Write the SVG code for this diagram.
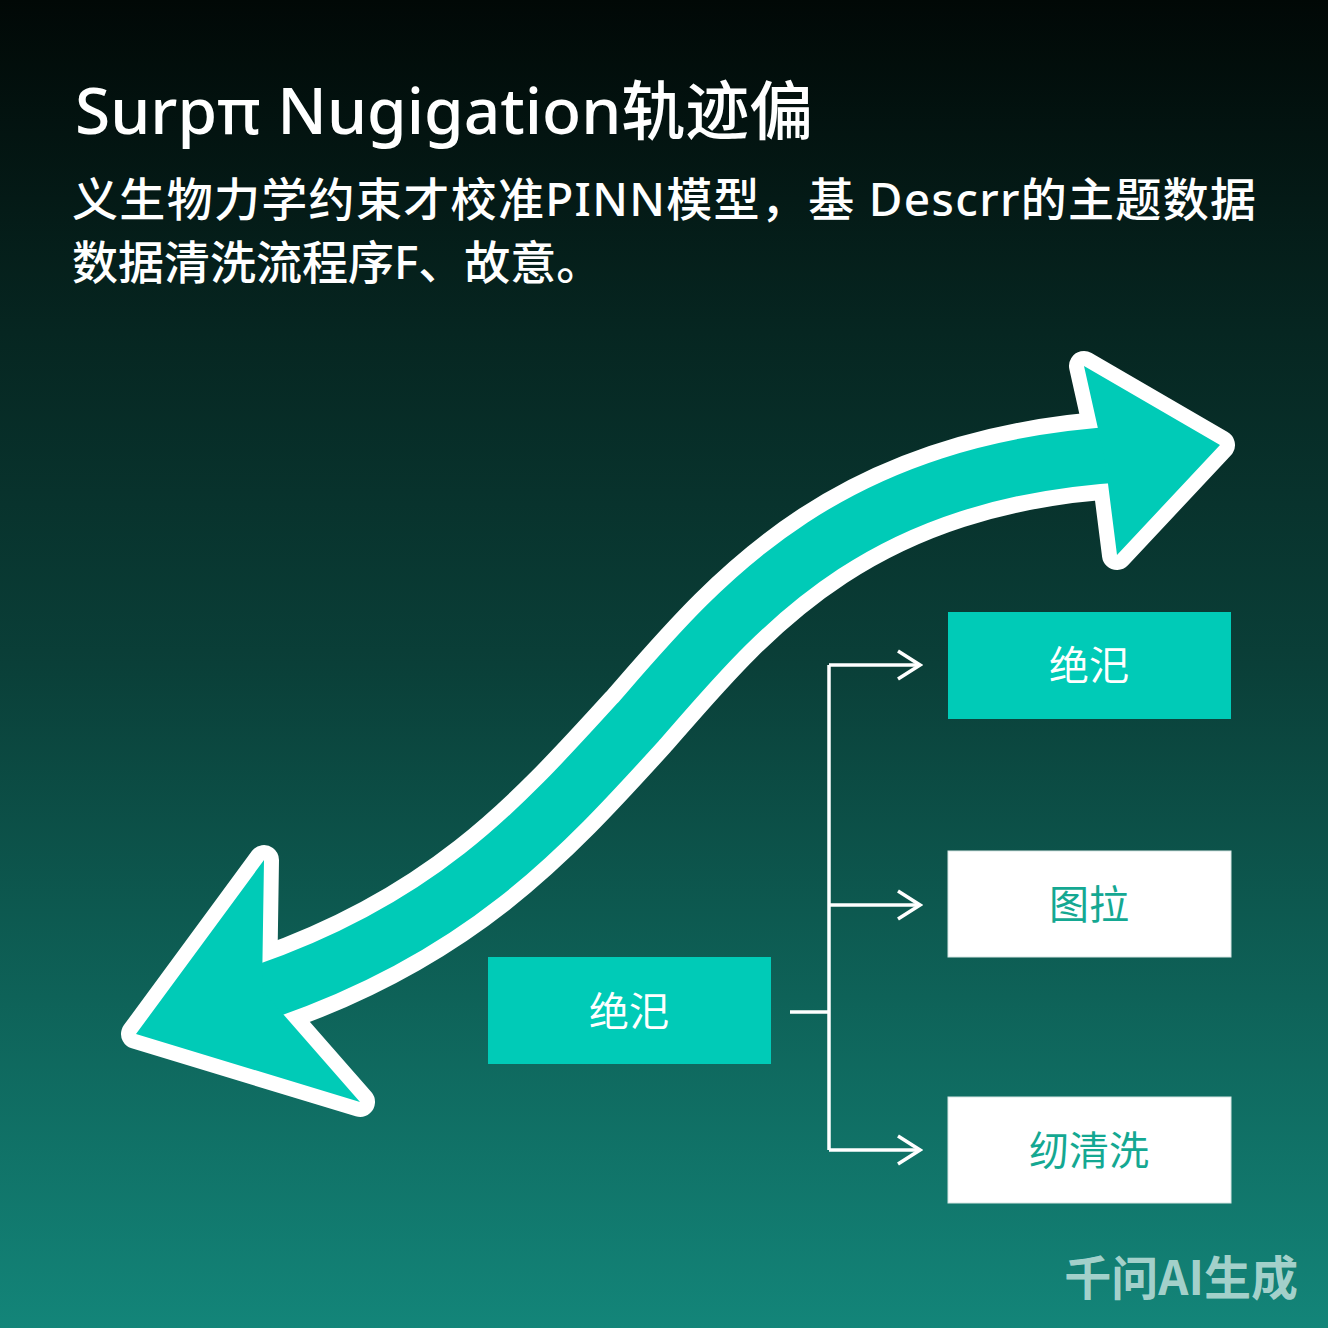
<svg xmlns="http://www.w3.org/2000/svg" width="1328" height="1328" viewBox="0 0 1328 1328">
  <defs>
    <linearGradient id="bg" x1="0" y1="0" x2="0" y2="1">
      <stop offset="0" stop-color="#010806"/>
      <stop offset="0.25" stop-color="#062621"/>
      <stop offset="0.5" stop-color="#0a3f38"/>
      <stop offset="0.75" stop-color="#0e6258"/>
      <stop offset="1" stop-color="#138579"/>
    </linearGradient>
    <marker id="open" viewBox="0 0 28 32" refX="25" refY="16" markerWidth="28" markerHeight="32" markerUnits="userSpaceOnUse" orient="auto">
      <path d="M3,2 L25,16 L3,30" fill="none" stroke="#ffffff" stroke-width="3.5"/>
    </marker>
    <style>
      .title{font-family:"Noto Sans","Noto Sans CJK SC",sans-serif;font-size:64px;font-weight:500;fill:#ffffff}
      .sub{font-family:"Noto Sans","Noto Sans CJK SC",sans-serif;font-size:46px;font-weight:500;fill:#ffffff}
      .teal{fill:#00cbb7}
      .white{fill:#ffffff}
      .lblw{font-family:"Noto Sans CJK SC",sans-serif;font-size:40px;fill:#ffffff;text-anchor:middle}
      .lblt{font-family:"Noto Sans CJK SC",sans-serif;font-size:40px;fill:#14a892;text-anchor:middle}
      .conn{fill:none;stroke:#ffffff;stroke-width:3.5}
      .wm{font-family:"Noto Sans CJK SC",sans-serif;font-size:47px;font-weight:700;fill:#b8dcd7;fill-opacity:0.9}
    </style>
  </defs>
  <rect x="0" y="0" width="1328" height="1328" fill="url(#bg)"/>

  <text class="title" x="75" y="134">Surpπ Nugigation轨迹偏</text>
  <text class="sub" x="72" y="216" textLength="1184" lengthAdjust="spacing">义生物力学约束才校准PINN模型，基 Descrr的主题数据</text>
  <text class="sub" x="72" y="279">数据清洗流程序F、故意。</text>

  <g id="big-arrow">
    <g stroke="#ffffff" stroke-linejoin="round">
      <path d="M255,995 C450,930 540,830 640,720 C740,605 850,470 1125,454" fill="none" stroke-width="88"/>
      <polygon points="1084,366 1220,445 1117,555 1105,460" fill="#ffffff" stroke-width="30"/>
      <polygon points="136,1034 264,860 262,990 360,1102" fill="#ffffff" stroke-width="30"/>
    </g>
    <path d="M255,995 C450,930 540,830 640,720 C740,605 850,470 1125,454" fill="none" stroke="#00cbb7" stroke-width="56"/>
    <polygon class="teal" points="1084,366 1220,445 1117,555 1105,460"/>
    <polygon class="teal" points="136,1034 264,860 262,990 360,1102"/>
  </g>

  <g id="connectors">
    <path class="conn" d="M790,1012 H829"/>
    <path class="conn" d="M829,665 V1150"/>
    <path class="conn" d="M829,665 H920" marker-end="url(#open)"/>
    <path class="conn" d="M829,905 H920" marker-end="url(#open)"/>
    <path class="conn" d="M829,1150 H920" marker-end="url(#open)"/>
  </g>

  <g id="node-source">
    <rect class="teal" x="488" y="957" width="283" height="107"/>
    <text class="lblw" x="629" y="1026">绝汜</text>
  </g>
  <g id="node-a">
    <rect class="teal" x="948" y="612" width="283" height="107"/>
    <text class="lblw" x="1089" y="680">绝汜</text>
  </g>
  <g id="node-b">
    <rect class="white" x="948" y="851" width="283" height="106" stroke="#d6e6e3" stroke-width="1"/>
    <text class="lblt" x="1089" y="919">图拉</text>
  </g>
  <g id="node-c">
    <rect class="white" x="948" y="1097" width="283" height="106" stroke="#d6e6e3" stroke-width="1"/>
    <text class="lblt" x="1089" y="1165">纫清洗</text>
  </g>

  <text class="wm" x="1298" y="1295" text-anchor="end">千问AI生成</text>
</svg>
